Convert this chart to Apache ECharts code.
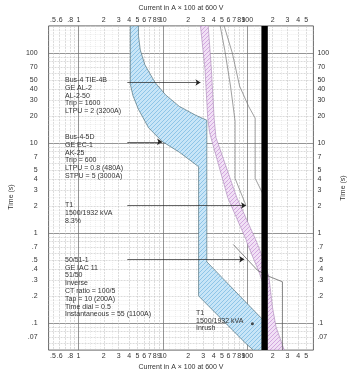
<!DOCTYPE html>
<html><head><meta charset="utf-8">
<script src="https://cdn.jsdelivr.net/npm/echarts@6/dist/echarts.min.js"></script>
<style>html,body{margin:0;padding:0;background:#fff}#c{width:355px;height:376px}</style>
</head><body><div id="c"></div>
<script>
// ---- axes / ticks ----
const xMin = 0.444, xMax = 607;
const yMin = 0.05, yMax = 200;
const xTickValues = [0.5,0.6,0.8,1,2,3,4,5,6,7,8,9,10,20,30,40,50,60,70,80,90,100,200,300,400,500];
const xTickLabels = ['.5','.6','.8','1','2','3','4','5','6','7','8','9','10','2','3','4','5','6','7','8','9','100','2','3','4','5'];
const yTickValues = [0.07,0.1,0.2,0.3,0.4,0.5,0.7,1,2,3,4,5,7,10,20,30,40,50,70,100];
const yTickLabels = ['.07','.1','.2','.3','.4','.5','.7','1','2','3','4','5','7','10','20','30','40','50','70','100'];
const xDecadeLines = [1,10,100];
const yDecadeLines = [0.1,1,10,100];
const xSecondaryLines = [0.5,0.6,0.7,0.8,0.9,2,3,4,5,6,7,8,9,20,30,40,50,60,70,80,90,200,300,400,500];
const ySecondaryLines = [0.06,0.07,0.08,0.09,0.2,0.3,0.4,0.5,0.6,0.7,0.8,0.9,2,3,4,5,6,7,8,9,20,30,40,50,60,70,80,90];
const xMinorLines = [1.2,1.4,1.6,1.8,2.5,12,14,16,18,25,120,140,160,180,250];
const yMinorLines = [0.12,0.14,0.16,0.18,0.25,1.2,1.4,1.6,1.8,2.5,12,14,16,18,25,120,140,160,180];

// ---- curves (current x100 A, time s) ----
// Bus-4-5D breaker band (blue)
const band5DMinEdge = [[4.12,200],[4.12,45],[4.43,33.5],[5.15,23.6],[6.77,14.8],[9.83,10.4],[15.7,7.9],[26.5,5.46],[26.5,0.2],[96.6,0.059],[118,0.05]];
const band5DMaxEdge = [[5.15,200],[5.15,156],[5.41,108],[6.13,74],[8.06,47.3],[10.8,34.2],[15.7,25.5],[24.6,20.3],[33.2,17.9],[33.2,0.478],[151,0.110],[167,0.099],[167,0.05]];
// Bus-4 TIE-4B breaker band (purple)
const bandTieMinEdge = [[27.9,200],[31.6,65.4],[34.0,18.9],[35.8,13.0],[58.8,2.46],[96.6,0.847],[101,0.746],[140,0.355],[159,0.245],[167,0.05]];
const bandTieMaxEdge = [[34.5,200],[37.6,65.4],[40.5,18.9],[42.6,11.5],[75.4,2.46],[130,0.786],[151,0.541],[180,0.330],[199,0.149],[219,0.0905],[274,0.05]];
// T1 damage curves (thin)
const t1CurveA = [[47.8,200],[54.2,107],[63.3,42.9],[71.7,17.5],[71.7,4.05],[96.6,2.02]];
const t1CurveB = [[53.2,200],[66.5,100],[81.1,42.9],[104,25.4],[124,18.9],[124,4.05],[151,2.79],[167,2.6]];
// 50/51-1 relay curve
const relayCurve = [[68.2,0.746],[133,0.383],[180,0.330],[261,0.287],[261,0.05]];
// fault current bar
const faultBarX = [147,175];
// T1 inrush point
const inrushPoint = [[115,0.098]];
// arrows [from, to]
const arrowTie = [[3.8,47],[27.9,47]];
const arrow5D = [[3.8,10.3],[9.8,10.3]];
const arrowT1 = [[3.8,2.02],[96.6,2.02]];
const arrowRelay = [[3.8,0.51],[92,0.51]];

// ---- texts ----
const labelTie = ['Bus-4 TIE-4B','GE AL-2','AL-2-50','Trip = 1600','LTPU = 2 (3200A)'];
const label5D = ['Bus-4-5D','GE EC-1','AK-25','Trip = 600','LTPU = 0.8 (480A)','STPU = 5 (3000A)'];
const labelT1 = ['T1','1500/1932 kVA','8.3%'];
const labelRelay = ['50/51-1','GE IAC 11','51/50','Inverse','CT ratio = 100/5','Tap = 10 (200A)','Time dial = 0.5','Instantaneous = 55 (1100A)'];
const labelInrush = ['T1','1500/1932 kVA','Inrush'];
const xTitle = 'Current in A \u00d7 100 at 600 V';
const yTitle = 'Time (s)';

const FF = '"Liberation Sans", Arial, sans-serif';
const TXT = '#333';

function hatch(bg, fg, size) {
  const c = document.createElement('canvas'); c.width = size; c.height = size;
  const g = c.getContext('2d');
  g.fillStyle = bg; g.fillRect(0,0,size,size);
  g.strokeStyle = fg; g.lineWidth = 1;
  g.beginPath();
  g.moveTo(0,size); g.lineTo(size,0);
  g.moveTo(-1,1); g.lineTo(1,-1);
  g.moveTo(size-1,size+1); g.lineTo(size+1,size-1);
  g.stroke();
  return c;
}
const bluePat = {image: hatch('#c8e5f7','#8ec5e8',4), repeat:'repeat'};
const purplePat = {image: hatch('#f1e0f5','#d2a8df',4), repeat:'repeat'};

function fmt(values, labels) {
  return function (v) {
    for (let i = 0; i < values.length; i++) {
      if (Math.abs(values[i] - v) <= values[i] * 1e-6) return labels[i];
    }
    return '';
  };
}
function polySeries(points, style, z) {
  return {
    type:'custom', coordinateSystem:'cartesian2d', xAxisIndex:0, yAxisIndex:0, z:z,
    silent:true, clip:true, data:[[1,1]],
    renderItem: function (params, api) {
      return {type:'polygon', shape:{points: points.map(p => api.coord(p))}, style: style};
    }
  };
}
function lineSeries(data, color, width, z) {
  return {type:'line', data:data, showSymbol:false, symbol:'none', silent:true, z:z,
    lineStyle:{color:color, width:width}, animation:false};
}
function lineAxisX(values, style) {
  return {type:'log', gridIndex:0, min:xMin, max:xMax, show:true,
    axisLine:{show:false}, axisLabel:{show:false}, axisTick:{show:false, customValues:values},
    splitLine:{show:true, lineStyle:style}};
}
function lineAxisY(values, style) {
  return {type:'log', gridIndex:0, min:yMin, max:yMax, show:true,
    axisLine:{show:false}, axisLabel:{show:false}, axisTick:{show:false, customValues:values},
    splitLine:{show:true, lineStyle:style}};
}
const lblStyle = {fontSize:7, color:TXT, fontFamily:FF};
function labelAxisX(pos, gap) {
  return {type:'log', gridIndex:0, min:xMin, max:xMax, position:pos,
    axisLine:{show:false}, axisTick:{show:false, customValues:xTickValues}, splitLine:{show:false},
    axisLabel:Object.assign({customValues:xTickValues, formatter:fmt(xTickValues,xTickLabels), margin:2, hideOverlap:false, showMinLabel:true, showMaxLabel:true}, lblStyle),
    name:xTitle, nameLocation:'middle', nameGap:gap, nameTextStyle:{fontSize:7, color:TXT, fontFamily:FF}};
}
function labelAxisY(pos, margin, gap, pad) {
  return {type:'log', gridIndex:0, min:yMin, max:yMax, position:pos,
    axisLine:{show:false}, axisTick:{show:false, customValues:yTickValues}, splitLine:{show:false},
    axisLabel:Object.assign({customValues:yTickValues, formatter:fmt(yTickValues,yTickLabels), margin:margin, hideOverlap:false, showMinLabel:true, showMaxLabel:true}, lblStyle),
    name:yTitle, nameLocation:'middle', nameGap:gap, nameTextStyle:{fontSize:7, color:TXT, fontFamily:FF, padding:pad}};
}
function textBlock(lines, x, y) {
  return {type:'text', left:x, top:y, silent:true, z:50,
    style:{text: lines.join('\n'), fontSize:7, lineHeight:7.8, fill:TXT, fontFamily:FF}};
}
function arrow(pts) {
  return [{coord:pts[0]},{coord:pts[1]}];
}

const chart = echarts.init(document.getElementById('c'), null, {renderer:'canvas'});
chart.setOption({
  animation:false,
  backgroundColor:'#fff',
  grid:{left:33.3, right:31, top:20, bottom:22, show:true, borderColor:'#444', borderWidth:0.8, backgroundColor:'transparent'},
  xAxis:[
    labelAxisX('bottom', 10.5),
    labelAxisX('top', 11.5),
    lineAxisX(xMinorLines, {color:'#dcdcdc', width:0.5, type:[1,1]}),
    lineAxisX(xSecondaryLines, {color:'#c2c2c2', width:0.6, type:[2,1]}),
    lineAxisX(xDecadeLines, {color:'#7a7a7a', width:0.8, type:'solid'})
  ],
  yAxis:[
    labelAxisY('left', 11, 18, [0,18,0,0]),
    labelAxisY('right', 4, 19.5, 0),
    lineAxisY(yMinorLines, {color:'#dcdcdc', width:0.5, type:[1,1]}),
    lineAxisY(ySecondaryLines, {color:'#c2c2c2', width:0.6, type:[2,1]}),
    lineAxisY(yDecadeLines, {color:'#7a7a7a', width:0.8, type:'solid'})
  ],
  series:[
    polySeries(bandTieMinEdge.concat(bandTieMaxEdge.slice().reverse()), {fill:purplePat, stroke:'#a884b6', lineWidth:0.6}, 3),
    polySeries(band5DMinEdge.concat(band5DMaxEdge.slice().reverse()), {fill:bluePat, stroke:'#3f5f6a', lineWidth:0.6}, 4),
    lineSeries(t1CurveA, '#777', 0.7, 5),
    lineSeries(t1CurveB, '#777', 0.7, 5),
    lineSeries(relayCurve, '#555', 0.7, 5),
    polySeries([[faultBarX[0],yMin],[faultBarX[1],yMin],[faultBarX[1],yMax],[faultBarX[0],yMax]], {fill:'#000'}, 6),
    {type:'scatter', data:inrushPoint, symbol:'circle', symbolSize:3, itemStyle:{color:'#222'}, silent:true, z:7},
    {type:'line', data:[], silent:true, z:8,
      markLine:{silent:true, symbol:['none','arrow'], symbolSize:5, animation:false,
        label:{show:false}, lineStyle:{color:'#222', width:0.7, type:'solid'},
        emphasis:{disabled:true},
        data:[arrow(arrowTie), arrow(arrow5D), arrow(arrowT1), arrow(arrowRelay)]}}
  ],
  graphic:[
    textBlock(labelTie, 65, 76.1),
    textBlock(label5D, 65, 133.1),
    textBlock(labelT1, 65, 201.1),
    textBlock(labelRelay, 65, 256),
    textBlock(labelInrush, 196, 309)
  ]
});
</script>
</body></html>
